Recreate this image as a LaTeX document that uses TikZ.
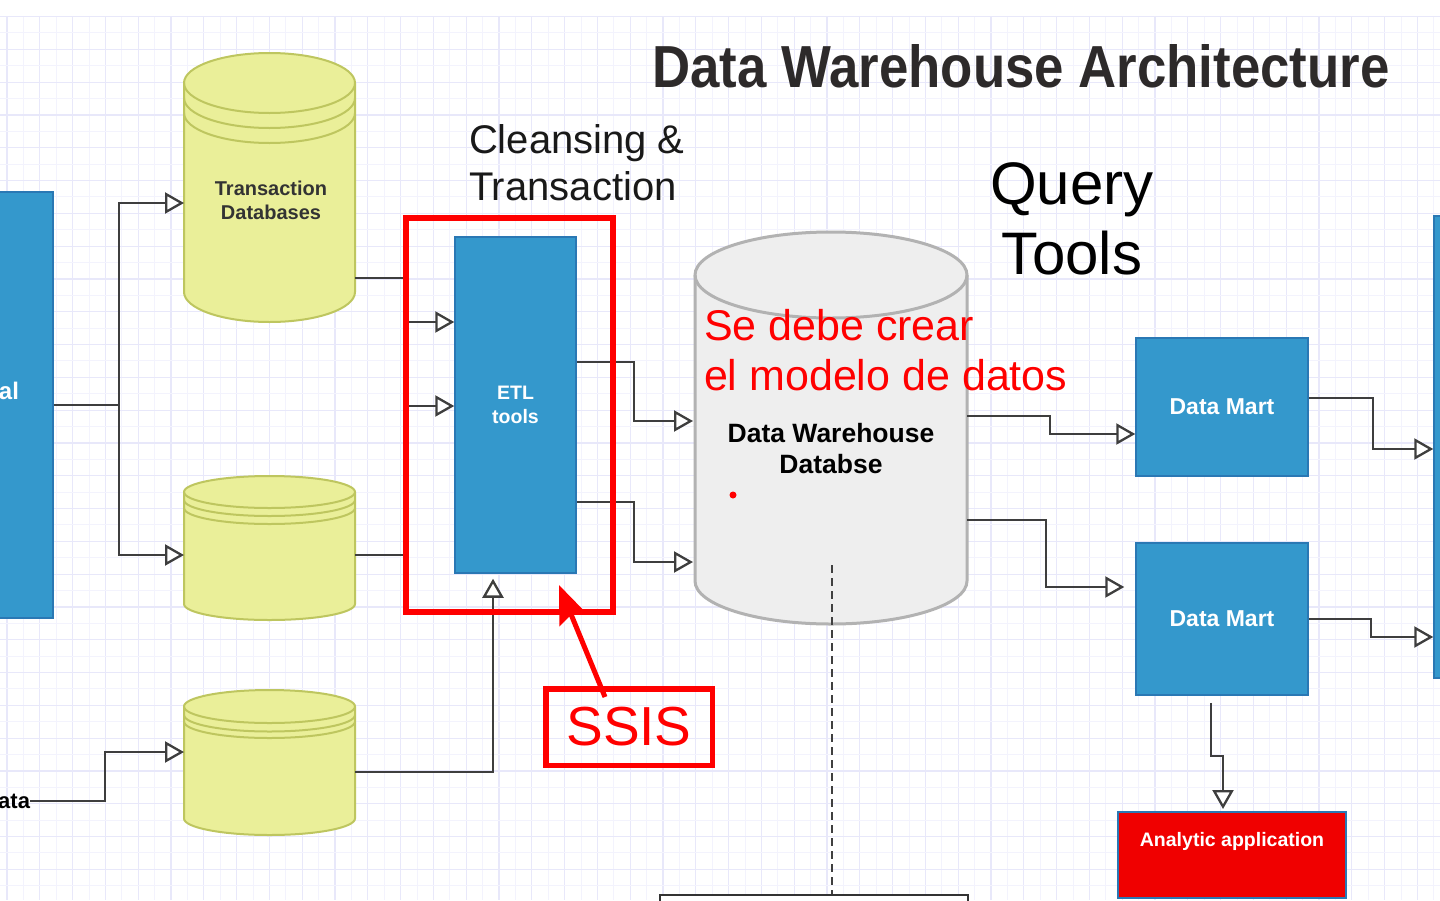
\documentclass[tikz,border=0pt]{standalone}
\usepackage{fontspec}
\setmainfont{Liberation Sans}
\usetikzlibrary{arrows.meta,calc}
\definecolor{gridmin}{RGB}{243,243,253}
\definecolor{gridmaj}{RGB}{232,232,250}
\definecolor{boxblue}{RGB}{52,152,204}
\definecolor{boxborder}{RGB}{42,120,180}
\definecolor{dbyellow}{RGB}{234,239,153}
\definecolor{dbolive}{RGB}{190,198,95}
\definecolor{dwfill}{RGB}{238,238,238}
\definecolor{dwline}{RGB}{178,178,178}
\definecolor{conngray}{RGB}{62,62,62}
\definecolor{annred}{RGB}{255,0,0}
\definecolor{appred}{RGB}{240,0,0}
\definecolor{titlec}{RGB}{45,42,42}
% cylinder: x1, x2, top, bottom, ry, style, inner-arc offsets
\newcommand{\mycyl}[7]{%
  \pgfmathsetmacro\cycx{(#1+#2)/2}%
  \pgfmathsetmacro\cyrx{(#2-#1)/2}%
  \pgfmathsetmacro\cykx{0.5523*\cyrx}%
  \pgfmathsetmacro\cyky{0.5523*#5}%
  \pgfmathsetmacro\cyta{#3+#5}%
  \pgfmathsetmacro\cybb{#4-#5}%
  \draw[#6] (#1,\cyta) .. controls (#1,\cyta-\cyky) and (\cycx-\cykx,#3) .. (\cycx,#3)
    .. controls (\cycx+\cykx,#3) and (#2,\cyta-\cyky) .. (#2,\cyta) -- (#2,\cybb)
    .. controls (#2,\cybb+\cyky) and (\cycx+\cykx,#4) .. (\cycx,#4)
    .. controls (\cycx-\cykx,#4) and (#1,\cybb+\cyky) .. (#1,\cybb) -- cycle;
  \foreach \cyo in {#7} {%
    \draw[#6, fill=none] (#1,\cyta+\cyo) .. controls (#1,\cyta+\cyo+\cyky) and (\cycx-\cykx,\cyta+\cyo+#5) .. (\cycx,\cyta+\cyo+#5)
      .. controls (\cycx+\cykx,\cyta+\cyo+#5) and (#2,\cyta+\cyo+\cyky) .. (#2,\cyta+\cyo);
  }%
}
\begin{document}
\begin{tikzpicture}[x=1pt,y=-1pt,
  conn/.style={draw=conngray, line width=2.3pt, -{Triangle[length=19pt,width=21pt,fill=white]}},
  bluebox/.style={draw=boxborder, fill=boxblue, line width=1.5pt, inner sep=0pt},
  ghost/.style={inner sep=0pt, outer sep=0pt},
  dbstyle/.style={draw=dbolive, fill=dbyellow, line width=2pt},
  dashline/.style={draw=black!75, line width=2pt, dash pattern=on 8pt off 5pt},
]
\useasboundingbox (0,0) rectangle (1440,900);
\clip (0,0) rectangle (1440,900);
\fill[white] (0,0) rectangle (1440,900);
% grid
\foreach \k in {0,...,43} {
  \draw[gridmin, line width=1pt] ({23.4+32.8*\k},16) -- ({23.4+32.8*\k},900);
  \draw[gridmaj, line width=1.2pt] ({7+32.8*\k},16) -- ({7+32.8*\k},900);
}
\foreach \k in {0,...,27} {
  \draw[gridmin, line width=1pt] (0,{32.9+32.8*\k}) -- (1440,{32.9+32.8*\k});
  \draw[gridmaj, line width=1.2pt] (0,{16.5+32.8*\k}) -- (1440,{16.5+32.8*\k});
}
% title
\node[ghost, text=titlec] (title) at (1021,66.5) {\resizebox{737pt}{43pt}{\bfseries Data Warehouse Architecture}};
% left source box
\node[bluebox, minimum width=63, minimum height=426] (srcL) at (21.5,405) {};
\node[ghost, text=white, font=\bfseries\fontsize{24}{28}\selectfont, anchor=east] (srcLtxt) at (19,391) {al};
\node[ghost, text=black, font=\bfseries\fontsize{22}{26}\selectfont, anchor=east] (datatxt) at (30,801) {ata};
% cylinders
\mycyl{184}{355}{53}{322}{30}{dbstyle}{0,15,30}
\node[ghost, minimum width=171, minimum height=269] (tdb) at (269.5,187.5) {};
\node[ghost, font=\bfseries\fontsize{20}{24}\selectfont, text=black!80, align=center] (tdbtxt) at (271,200) {Transaction\\Databases};
\mycyl{184}{355}{476}{620}{16}{dbstyle}{0,8,16}
\node[ghost, minimum width=171, minimum height=144] (db2) at (269.5,548) {};
\mycyl{184}{355}{690}{835}{16.5}{dbstyle}{0,8.5,15}
\node[ghost, minimum width=171, minimum height=145] (db3) at (269.5,762.5) {};
% ETL
\node[bluebox, minimum width=121, minimum height=336, text=white, font=\bfseries\fontsize{19.5}{24}\selectfont, align=center] (etl) at (515.5,405) {ETL\\tools};
% data warehouse
\mycyl{695}{967}{232}{624}{43}{draw=dwline, fill=dwfill, line width=3pt}{0}
\node[ghost, minimum width=272, minimum height=392] (dw) at (831,428) {};
\node[ghost, font=\bfseries\fontsize{26.5}{31}\selectfont, align=center] (dwtxt) at (831,448.5) {Data Warehouse\\Databse};
\node[ghost, anchor=north west, text=annred, font=\fontsize{43}{50}\selectfont, align=left] (note) at (704,309) {Se debe crear\\el modelo de datos};
\fill[annred] (733,495) circle (3.5pt);
% headings
\node[ghost, anchor=north west, font=\fontsize{40}{47}\selectfont, align=left, text=black!90] (cleans) at (469,125) {Cleansing \&\\Transaction};
\node[ghost, anchor=north, font=\fontsize{60}{70}\selectfont, align=center] (query) at (1072,163) {Query\\Tools};
% marts
\node[bluebox, minimum width=172, minimum height=138, text=white, font=\bfseries\fontsize{23}{26}\selectfont] (mart1) at (1222,407) {Data Mart};
\node[bluebox, minimum width=172, minimum height=152, text=white, font=\bfseries\fontsize{23}{26}\selectfont] (mart2) at (1222,619) {Data Mart};
\node[draw=boxborder, fill=appred, line width=2pt, minimum width=228, minimum height=86] (app) at (1232,855) {};
\node[ghost, text=white, font=\bfseries\fontsize{19.5}{24}\selectfont] (apptxt) at (1232,841) {Analytic application};
\node[bluebox, minimum width=46, minimum height=462] (rightB) at (1457,447) {};
\node[draw=black!80, fill=white, line width=2.5pt, minimum width=308, minimum height=70] (botbox) at (814,930) {};
% connectors
\draw[conn] (srcL.east) -- ++(65,0) |- ([yshift=-15.5pt]tdb.west);
\draw[conn] (srcL.east) -- ++(65,0) |- ([yshift=-7pt]db2.west);
\draw[conn] ([yshift=-90.5pt]tdb.east) -- ++(53,0) |- ([yshift=83pt]etl.west);
\draw[conn] ([yshift=-7pt]db2.east) -- ++(53,0) |- ([yshift=-1pt]etl.west);
\draw[conn, shorten >=5pt] ([yshift=-9.5pt]db3.east) -| ([xshift=-22.5pt]etl.south);
\draw[conn] (datatxt.east) -- ++(75,0) |- ([yshift=10.5pt]db3.west);
\draw[conn, shorten >=2pt] ([yshift=43pt]etl.east) -- ++(57,0) |- ([yshift=7pt]dw.west);
\draw[conn, shorten >=2pt] ([yshift=-97pt]etl.east) -- ++(57,0) |- ([yshift=-134pt]dw.west);
\draw[conn] ([yshift=12pt]dw.east) -- ++(83,0) |- ([yshift=-27pt]mart1.west);
\draw[conn, shorten >=11pt] ([yshift=-92pt]dw.east) -- ++(79,0) |- ([yshift=32pt]mart2.west);
\draw[conn] ([yshift=9pt]mart1.east) -- ++(64,0) |- ([yshift=-2pt]rightB.west);
\draw[conn] (mart2.east) -- ++(62,0) |- ([yshift=-190pt]rightB.west);
\draw[conn, shorten >=2pt] ([xshift=-11pt,yshift=-7pt]mart2.south) -- ++(0,53) -| ([xshift=-9pt]app.north);
\draw[dashline] ([xshift=1pt,yshift=59pt]dw.south) -- ([xshift=18pt]botbox.north);
% annotations
\node[draw=annred, line width=6pt, minimum width=207, minimum height=394] (redbox) at (509.5,415) {};
\node[draw=annred, line width=5.5pt, minimum width=166.5, minimum height=76.5, text=annred, font=\fontsize{55}{60}\selectfont, inner sep=0pt] (ssis) at (629,727) {SSIS};
\draw[annred, line width=5pt, -{Stealth[length=38pt,width=30pt,inset=6pt]}] ([xshift=-24pt,yshift=-11pt]ssis.north) -- ([xshift=49.5pt,yshift=30pt]redbox.south);
\end{tikzpicture}
\end{document}
